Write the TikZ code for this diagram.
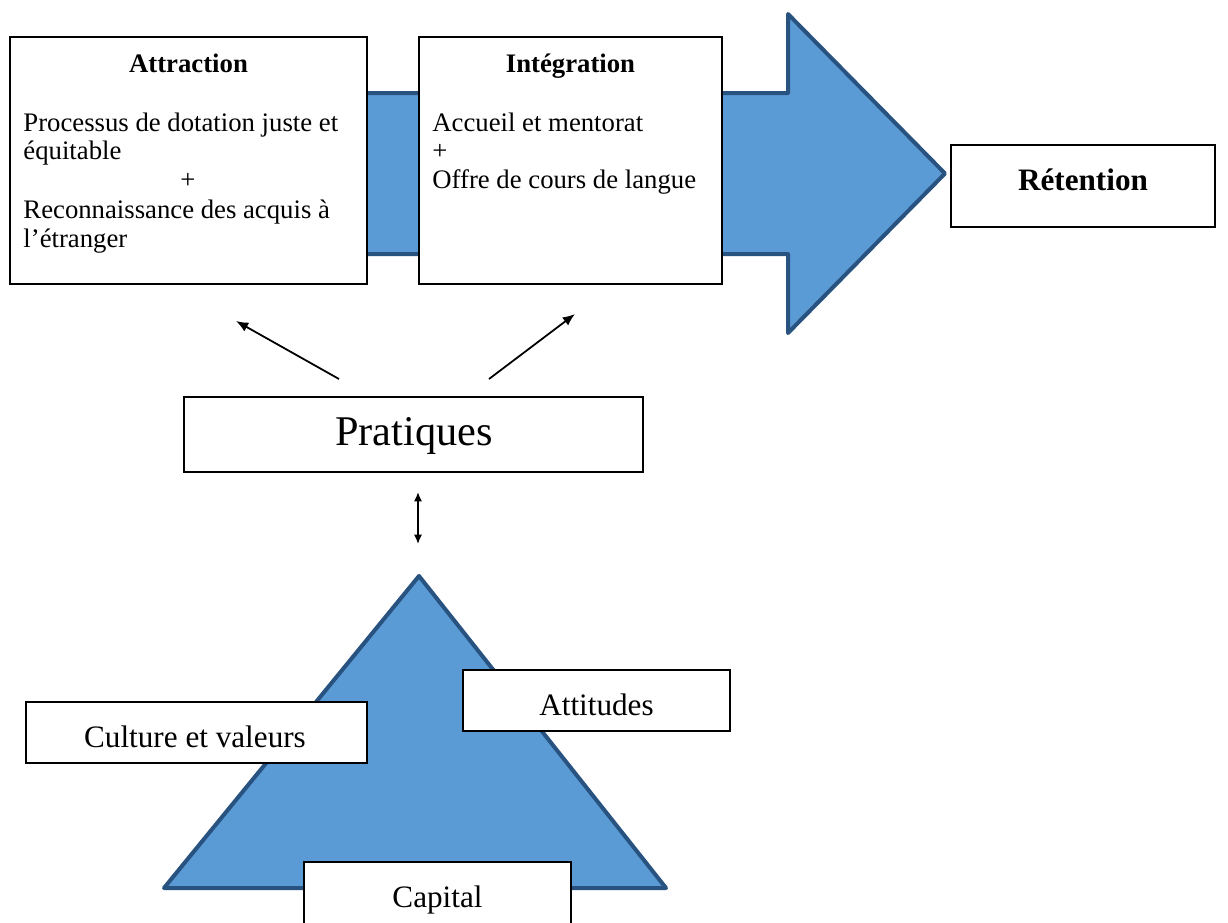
\documentclass[tikz,border=0pt]{standalone}
\usepackage{fontspec}
\setmainfont{Liberation Serif}
\usetikzlibrary{arrows.meta,fit}
\definecolor{shapefill}{RGB}{91,155,213}
\definecolor{shapeline}{RGB}{40,82,128}
\begin{document}
\begin{tikzpicture}[x=0.449pt,y=-0.449pt,
  box/.style={draw=black,line width=0.9pt,fill=white,inner sep=0pt},
  txt/.style={inner sep=0pt,anchor=base},
  txtl/.style={inner sep=0pt,anchor=base west},
  body/.style={font=\fontsize{12}{14}\selectfont},
  bodyb/.style={font=\fontsize{12}{14}\selectfont\bfseries},
  mid/.style={font=\fontsize{14}{16}\selectfont},
  midb/.style={font=\fontsize{14}{16}\selectfont\bfseries},
  large/.style={font=\fontsize{19}{22}\selectfont},
  blueshape/.style={fill=shapefill,draw=shapeline,line width=1.8pt,line join=round},
  link/.style={line width=0.8pt,-{Latex[length=5.5pt,width=4.5pt]}},
  twoway/.style={line width=0.7pt,{Latex[length=4.2pt,width=3.6pt]}-{Latex[length=4.2pt,width=3.6pt]}}]

\useasboundingbox[fill=white] (0,0) rectangle (1228,922);

% large process arrow behind the two stage boxes
\draw[blueshape] (200,93) -- (788,93) -- (788,14) -- (945,173.5)
  -- (788,333) -- (788,254) -- (200,254) -- cycle;

% stage boxes
\node[box,fit={(10,37)(367,284)}] (attraction) {};
\node[box,fit={(419,37)(722,284)}] (integration) {};
\node[box,fit={(951,145)(1215,227)}] (retention) {};

\node[txt,bodyb] (attrT) at (188.5,72) {Attraction};
\node[txtl,body] (attr1) at (23,131) {Processus de dotation juste et};
\node[txtl,body] (attr2) at (23,159.5) {équitable};
\node[txt,body] (attr3) at (188,188) {+};
\node[txtl,body] (attr4) at (23,218) {Reconnaissance des acquis à};
\node[txtl,body] (attr5) at (23,247) {l’étranger};

\node[txt,bodyb] (intT) at (570.5,72) {Intégration};
\node[txtl,body] (int1) at (432,131) {Accueil et mentorat};
\node[txtl,body] (int2) at (432,159) {+};
\node[txtl,body] (int3) at (432,188) {Offre de cours de langue};

\node[txt,midb] (retT) at (1083,190) {Rétention};

% practices
\node[box,fit={(184,397)(643,472)}] (pratiques) {};
\node[txt,large] (pratT) at (414,445) {Pratiques};

\coordinate (pl) at (339,379);
\coordinate (al) at (236,321);
\coordinate (pr) at (489,379);
\coordinate (ar) at (575,314);
\draw[link] (pl) -- (al);
\draw[link] (pr) -- (ar);

\coordinate (du) at (418,492);
\coordinate (dd) at (418,544);
\draw[twoway] (du) -- (dd);

% culture triangle
\draw[blueshape] (419,576) -- (666,888) -- (164,888) -- cycle;

\node[box,fit={(26,702)(367,763)}] (culture) {};
\node[txt,mid] (cultT) at (195,747) {Culture et valeurs};
\node[box,fit={(463,670)(730,731)}] (attitudes) {};
\node[txt,mid] (attT) at (596.5,715) {Attitudes};
\node[box,fit={(304,862)(571,940)}] (capital) {};
\node[txt,mid] (capT) at (437.5,907) {Capital};
\end{tikzpicture}
\end{document}
